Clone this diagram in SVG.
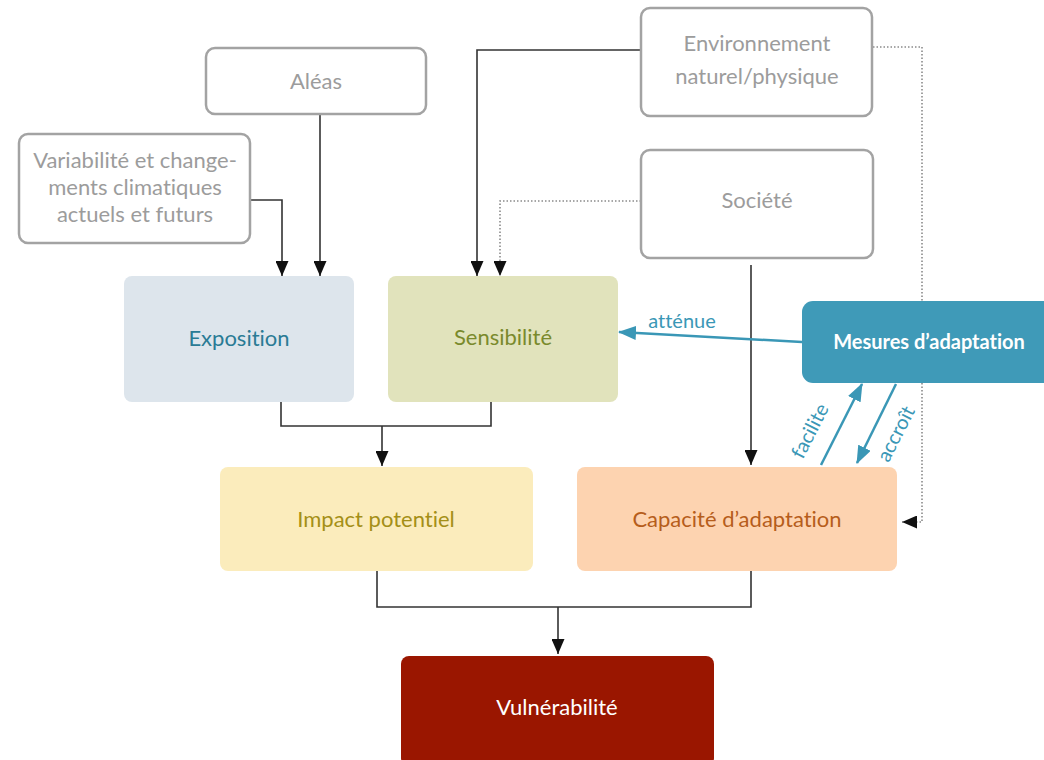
<svg xmlns="http://www.w3.org/2000/svg" width="1044" height="760" viewBox="0 0 1044 760">
<style>
text{font-variant-ligatures:none}
.ob{fill:#fff;stroke:#a3a3a3;stroke-width:2.5}
.ot{font-family:Lato,"Liberation Sans",sans-serif;font-size:22px;fill:#9c9c9c;text-anchor:middle}
.t{font-family:Lato,"Liberation Sans",sans-serif;font-size:22px;text-anchor:middle}
.c{fill:none;stroke:#333;stroke-width:1.6}
.d{fill:none;stroke:#8a8a8a;stroke-width:1.6;stroke-dasharray:1.5 2}
.b{fill:none;stroke:#3a97b6;stroke-width:2.5}
.bt{font-family:Lato,"Liberation Sans",sans-serif;font-size:20px;fill:#3a97b6}
</style>
<defs>
<marker id="ah" markerUnits="userSpaceOnUse" markerWidth="15" markerHeight="13" refX="15" refY="6.5" orient="auto" viewBox="0 0 15 13"><path d="M0,0 L15,6.5 L0,13 z" fill="#111"/></marker>
<marker id="bh" markerUnits="userSpaceOnUse" markerWidth="18" markerHeight="14" refX="17" refY="7" orient="auto" viewBox="0 0 18 14"><path d="M0,0 L18,7 L0,14 z" fill="#3a97b6"/></marker>
</defs>
<rect width="1044" height="760" fill="#fff"/>
<g id="connectors">
<path class="c" d="M250,200 H282 V276" marker-end="url(#ah)"/>
<path class="c" d="M320,114 V276" marker-end="url(#ah)"/>
<path class="c" d="M641,50 H477 V276" marker-end="url(#ah)"/>
<path class="d" d="M641,201 H500 V276" marker-end="url(#ah)"/>
<path class="d" d="M873,47 H922 V522 H902" marker-end="url(#ah)"/>
<path class="c" d="M751,265 V465" marker-end="url(#ah)"/>
<path class="c" d="M281,402 V426 H491 V402"/>
<path class="c" d="M382,426 V466" marker-end="url(#ah)"/>
<path class="c" d="M377,571 V607 H751 V571"/>
<path class="c" d="M558,607 V654" marker-end="url(#ah)"/>
<path class="b" d="M802,342 L619,332" marker-end="url(#bh)"/>
<text class="bt" x="682" y="328" text-anchor="middle">atténue</text>
<path class="b" d="M821,465 L862,384" marker-end="url(#bh)"/>
<text class="bt" x="816" y="434" text-anchor="middle" transform="rotate(-63 816 434)">facilite</text>
<path class="b" d="M896,384 L857,463" marker-end="url(#bh)"/>
<text class="bt" x="902" y="437" text-anchor="middle" transform="rotate(-63 902 437)">accroît</text>
</g>
<g id="aleas"><rect class="ob" x="206" y="48" width="220" height="66" rx="9"/><text class="ot" x="316" y="89">Aléas</text></g>
<g id="variabilite"><rect class="ob" x="19" y="134" width="231" height="109" rx="9"/>
<text class="ot" x="135" y="168">Variabilité et change-</text><text class="ot" x="135" y="195">ments climatiques</text><text class="ot" x="135" y="222">actuels et futurs</text></g>
<g id="environnement"><rect class="ob" x="641" y="8" width="231" height="108" rx="9"/>
<text class="ot" x="757" y="51">Environnement</text><text class="ot" x="757" y="84">naturel/physique</text></g>
<g id="societe"><rect class="ob" x="641" y="150" width="232" height="108" rx="9"/><text class="ot" x="757" y="208">Société</text></g>
<g id="exposition"><rect x="124" y="276" width="230" height="126" rx="8" fill="#dde5ec"/><text class="t" x="239" y="346" fill="#2a7b95">Exposition</text></g>
<g id="sensibilite"><rect x="388" y="276" width="230" height="126" rx="8" fill="#e1e3bc"/><text class="t" x="503" y="345" fill="#7a8a2c">Sensibilité</text></g>
<g id="mesures"><rect x="802" y="301" width="262" height="82" rx="11" fill="#3f9ab8"/><text class="t" x="929" y="349" fill="#fff" font-weight="bold" style="font-size:20px">Mesures d’adaptation</text></g>
<g id="impact"><rect x="220" y="467" width="313" height="104" rx="8" fill="#fbecbc"/><text class="t" x="376" y="527" fill="#a48f17">Impact potentiel</text></g>
<g id="capacite"><rect x="577" y="467" width="320" height="104" rx="8" fill="#fdd3b0"/><text class="t" x="737" y="527" fill="#b65d1b">Capacité d’adaptation</text></g>
<g id="vulnerabilite"><rect x="401" y="656" width="313" height="110" rx="8" fill="#9a1600"/><text class="t" x="557" y="715" fill="#fff">Vulnérabilité</text></g>
</svg>
